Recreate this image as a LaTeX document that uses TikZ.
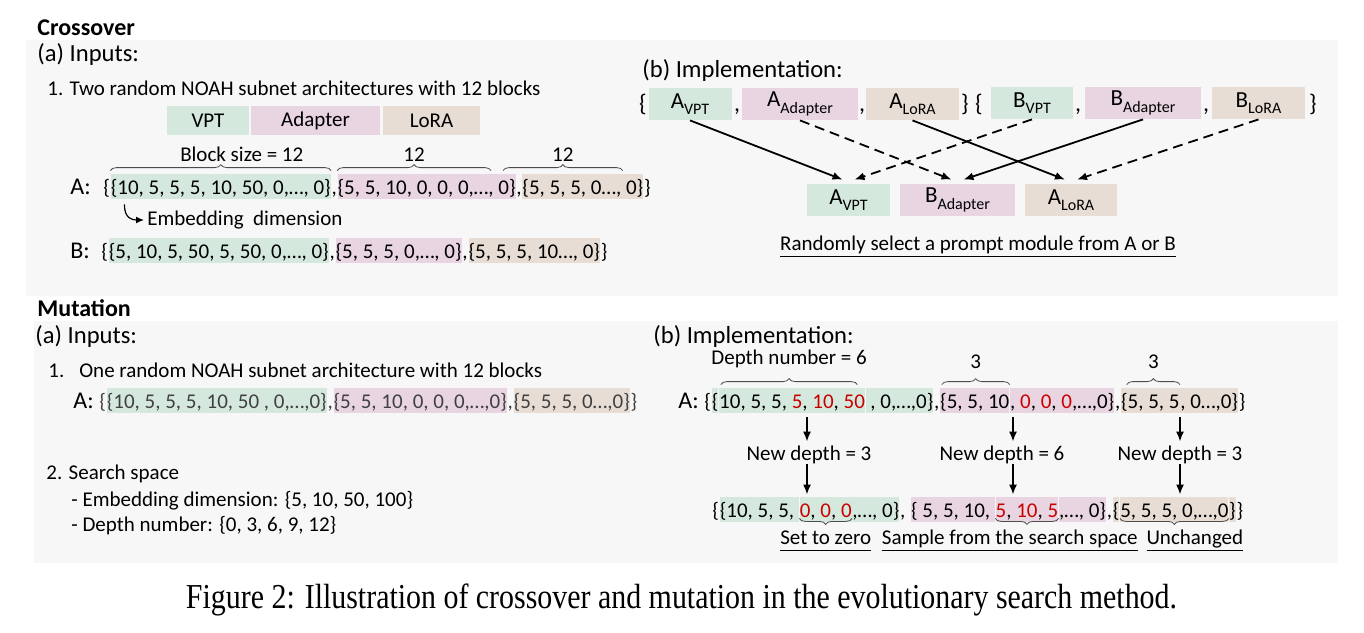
\documentclass[tikz,border=0pt]{standalone}
\usepackage{fontspec}
\setmainfont{Carlito}
\newfontfamily\capfont{Liberation Serif}
\usetikzlibrary{positioning,arrows.meta,decorations.pathreplacing}

\definecolor{vptclr}{HTML}{D5E8DE}
\definecolor{adpclr}{HTML}{E8D5E1}
\definecolor{loraclr}{HTML}{E7DDD5}
\definecolor{panelclr}{HTML}{F7F7F7}
\definecolor{hotclr}{HTML}{C80000}

\newcommand\rd[1]{\textcolor{hotclr}{#1}}
\newcommand\modsub[1]{\raisebox{-0.6ex}{\fontsize{8}{9}\selectfont #1}}
\newcommand\ul[1]{\underline{#1\vphantom{p}}}

\tikzset{
  txt/.style={inner sep=0pt, font=\fontsize{10.5}{12}\selectfont},
  big/.style={inner sep=0pt, font=\fontsize{12}{14}\selectfont},
  subhead/.style={inner sep=0pt, font=\fontsize{12.3}{14}\selectfont},
  head/.style={inner sep=0pt, font=\bfseries\fontsize{12}{14}\selectfont},
  seg/.style={txt, text height=10pt, text depth=2.5pt},
  vseg/.style={seg, fill=vptclr},
  aseg/.style={seg, fill=adpclr},
  lseg/.style={seg, fill=loraclr},
  dim/.style={text=black!75},
  modbox/.style={inner sep=0pt, minimum height=16pt, font=\fontsize{11.5}{14}\selectfont},
  legbox/.style={txt, minimum height=14.5pt},
  arr/.style={-{Latex[length=5pt,width=4pt]}, line width=0.9pt},
  dsharr/.style={arr, dash pattern=on 5pt off 3pt},
  brc/.style={decorate, decoration={brace, amplitude=3pt}, line width=0.4pt, draw=black!70},
  mbrc/.style={decorate, decoration={brace, mirror, amplitude=3pt}, line width=0.4pt, draw=black!70},
}

\begin{document}
\begin{tikzpicture}[x=0.5pt, y=-0.5pt]
\useasboundingbox (0,0) rectangle (1364,632);

% grey panels
\fill[panelclr] (26,40) rectangle (1338,296);
\fill[panelclr] (34,321) rectangle (1338,563);

%%%%% Crossover
\node[head, anchor=west] (xTitle) at (37,28) {Crossover};
\node[subhead, anchor=west] (xIn) at (37,54) {(a) Inputs:};
\node[txt, anchor=west] (xL1) at (47,88) {1. Two random NOAH subnet architectures with 12 blocks};

% legend
\node[legbox, fill=vptclr, minimum width=41pt] (lgV) at (208,120.5) {VPT};
\node[legbox, fill=adpclr, minimum width=64.5pt] (lgA) at (315.5,120.5) {Adapter};
\node[legbox, fill=loraclr, minimum width=48.5pt] (lgL) at (431.5,120.5) {LoRA};

% architecture A
\node[big, anchor=base west] (xA) at (70,194) {A:};
\node[seg, anchor=base west] (xA1) at (103,194) {\{};
\node[vseg, base right=0pt of xA1] (xA2) {\{10, 5, 5, 5, 10, 50, 0,…, 0\}};
\node[seg, base right=0pt of xA2] (xA3) {,};
\node[aseg, base right=0pt of xA3] (xA4) {\{5, 5, 10, 0, 0, 0,…, 0\}};
\node[seg, base right=0pt of xA4] (xA5) {,};
\node[lseg, base right=0pt of xA5] (xA6) {\{5, 5, 5, 0…, 0\}};
\node[seg, base right=0pt of xA6] (xA7) {\}};

% block sizes
\draw[brc] ([yshift=1.5pt]xA2.north west) -- ([yshift=1.5pt]xA2.north east)
  node[txt, midway, above=4.5pt, xshift=10.5pt] (bs1) {Block size = 12};
\draw[brc] ([yshift=1.5pt]xA4.north west) -- ([xshift=-12.5pt,yshift=1.5pt]xA4.north east)
  node[txt, midway, above=4.5pt] (bs2) {12};
\draw[brc] ([xshift=-9.5pt,yshift=1.5pt]xA6.north west) -- ([xshift=-10.5pt,yshift=1.5pt]xA6.north east)
  node[txt, midway, above=4.5pt] (bs3) {12};

% embedding dimension hint
\node[txt, anchor=west] (emb) at (147,220) {Embedding\ \ dimension};
\draw[-{Latex[length=4pt,width=3.5pt]}, line width=0.6pt]
  ([xshift=7pt,yshift=-2.5pt]xA2.south west) .. controls +(0,14) and +(-12,0) .. ([xshift=-1.5pt]emb.west);

% architecture B
\node[big, anchor=base west] (xB) at (70,258) {B:};
\node[seg, anchor=base west] (xB1) at (101,258) {\{};
\node[vseg, base right=0pt of xB1] (xB2) {\{5, 10, 5, 50, 5, 50, 0,…, 0\}};
\node[seg, base right=0pt of xB2] (xB3) {,};
\node[aseg, base right=0pt of xB3] (xB4) {\{5, 5, 5, 0,…, 0\}};
\node[seg, base right=0pt of xB4] (xB5) {,};
\node[lseg, base right=0pt of xB5] (xB6) {\{5, 5, 5, 10…, 0\}};
\node[seg, base right=0pt of xB6] (xB7) {\}};

% implementation
\node[subhead, anchor=west] (xImpl) at (642,70) {(b) Implementation:};

\node[big, anchor=base] (ob1) at (643,111) {\{};
\node[big, anchor=base] (cm1) at (737,111) {,};
\node[big, anchor=base] (cm2) at (862,111) {,};
\node[big, anchor=base] (cb1) at (965,111) {\}};
\node[big, anchor=base] (ob2) at (979,111) {\{};
\node[big, anchor=base] (cm3) at (1078,111) {,};
\node[big, anchor=base] (cm4) at (1206,111) {,};
\node[big, anchor=base] (cb2) at (1313,111) {\}};

\node[modbox, fill=vptclr, minimum width=41.5pt] (tAv) at (690,104) {A\modsub{VPT}};
\node[modbox, fill=adpclr, minimum width=58pt] (tAa) at (800,104) {A\modsub{Adapter}};
\node[modbox, fill=loraclr, minimum width=46.5pt] (tAl) at (912.5,104) {A\modsub{LoRA}};
\node[modbox, fill=vptclr, minimum width=41pt] (tBv) at (1032,103) {B\modsub{VPT}};
\node[modbox, fill=adpclr, minimum width=58pt] (tBa) at (1143,103) {B\modsub{Adapter}};
\node[modbox, fill=loraclr, minimum width=46.5pt] (tBl) at (1258.5,103) {B\modsub{LoRA}};

\node[modbox, fill=vptclr, minimum width=41.5pt] (cAv) at (848.5,200) {A\modsub{VPT}};
\node[modbox, fill=adpclr, minimum width=57.5pt] (cBa) at (957.5,200) {B\modsub{Adapter}};
\node[modbox, fill=loraclr, minimum width=46pt] (cAl) at (1071,200) {A\modsub{LoRA}};

\draw[arr] (tAv.south) -- ([xshift=-3pt,yshift=2pt]cAv.north);
\draw[dsharr] (tAa.south) -- ([xshift=-3pt,yshift=2pt]cBa.north);
\draw[arr] (tAl.south) -- ([xshift=-3pt,yshift=2pt]cAl.north);
\draw[dsharr] (tBv.south) -- ([xshift=3pt,yshift=2pt]cAv.north);
\draw[arr] (tBa.south) -- ([xshift=3pt,yshift=2pt]cBa.north);
\draw[dsharr] (tBl.south) -- ([xshift=3pt,yshift=2pt]cAl.north);

\node[txt] (xRand) at (978,247) {\ul{Randomly select a prompt module from A or B}};

%%%%% Mutation
\node[head, anchor=west] (mTitle) at (37,308) {Mutation};
\node[subhead, anchor=west] (mIn) at (35,336) {(a) Inputs:};
\node[txt, anchor=west] (mL1) at (48,370) {1.\hspace{7.5pt}One random NOAH subnet architecture with 12 blocks};

\node[big, anchor=base west] (mS) at (73,408) {A:};
\node[seg, dim, anchor=base west] (mS1) at (99,408) {\{};
\node[vseg, dim, base right=0pt of mS1] (mS2) {\{10, 5, 5, 5, 10, 50 , 0,…,0\}};
\node[seg, dim, base right=0pt of mS2] (mS3) {,};
\node[aseg, dim, base right=0pt of mS3] (mS4) {\{5, 5, 10, 0, 0, 0,…,0\}};
\node[seg, dim, base right=0pt of mS4] (mS5) {,};
\node[lseg, dim, base right=0pt of mS5] (mS6) {\{5, 5, 5, 0…,0\}};
\node[seg, dim, base right=0pt of mS6] (mS7) {\}};

\node[txt, anchor=west] (mL2) at (46,474) {2. Search space};
\node[txt, anchor=west] (mL3) at (71,501) {- Embedding dimension: \{5, 10, 50, 100\}};
\node[txt, anchor=west] (mL4) at (71,526) {- Depth number: \{0, 3, 6, 9, 12\}};

% implementation
\node[subhead, anchor=west] (mImpl) at (653,336) {(b) Implementation:};

\node[big, anchor=base west] (mA) at (678,408) {A:};
\node[seg, anchor=base west] (mA1) at (704,408) {\{};
\node[vseg, base right=0pt of mA1] (mA2) {\{};
\node[vseg, base right=0pt of mA2] (mA3) {10, 5, 5, \rd{5}, \rd{10}, \rd{50}};
\node[vseg, base right=0pt of mA3] (mA4) {\ , 0,…,0\}};
\node[seg, base right=0pt of mA4] (mA5) {,};
\node[aseg, base right=0pt of mA5] (mA6) {\{5, 5, 10};
\node[aseg, base right=0pt of mA6] (mA7) {, \rd{0}, \rd{0}, \rd{0},…,0\}};
\node[seg, base right=0pt of mA7] (mA8) {,};
\node[lseg, base right=0pt of mA8] (mA9) {\{5, 5, 5};
\node[lseg, base right=0pt of mA9] (mA10) {, 0…,0\}};
\node[seg, base right=0pt of mA10] (mA11) {\}};

\draw[brc] ([xshift=1pt,yshift=1.5pt]mA3.north west) -- ([xshift=-4pt,yshift=1.5pt]mA3.north east)
  node[txt, midway, above=8pt] (dn6) {Depth number = 6};
\draw[brc] ([xshift=1pt,yshift=1.5pt]mA6.north west) -- ([yshift=1.5pt]mA6.north east)
  node[txt, midway, above=8pt] (dn3a) {3};
\draw[brc] ([xshift=3pt,yshift=1.5pt]mA9.north west) -- ([yshift=1.5pt]mA9.north east)
  node[txt, midway, above=8pt] (dn3b) {3};

\node[txt] (nd1) at (809,455) {New depth = 3};
\node[txt] (nd2) at (1002,455) {New depth = 6};
\node[txt] (nd3) at (1180,455) {New depth = 3};

\coordinate (c1) at (807,0);
\coordinate (c2) at (1013,0);
\coordinate (c3) at (1180,0);

% mutated architecture
\node[seg, anchor=base west] (mB1) at (712,517) {\{};
\node[vseg, base right=0pt of mB1] (mB2) {\{10, 5, 5,\ \mbox{}};
\node[vseg, base right=0pt of mB2] (mB3) {\rd{0}, \rd{0}, \rd{0}};
\node[vseg, base right=0pt of mB3] (mB4) {,…, 0\}};
\node[seg, base right=0pt of mB4] (mB5) {,\ \mbox{}};
\node[aseg, base right=0pt of mB5] (mB6) {\{ 5, 5, 10,\ \mbox{}};
\node[aseg, base right=0pt of mB6] (mB7) {\rd{5}, \rd{10}, \rd{5}};
\node[aseg, base right=0pt of mB7] (mB8) {,…, 0\}};
\node[seg, base right=0pt of mB8] (mB9) {,};
\node[lseg, base right=0pt of mB9] (mB10) {\{};
\node[lseg, base right=0pt of mB10] (mB11) {5, 5, 5, 0,…,0};
\node[lseg, base right=0pt of mB11] (mB12) {\}};
\node[seg, base right=0pt of mB12] (mB13) {\}};

\draw[arr, shorten <=2pt, shorten >=2pt] (c1 |- mA3.south) -- (c1 |- nd1.north);
\draw[arr, shorten <=2pt, shorten >=2pt] (c2 |- mA7.south) -- (c2 |- nd2.north);
\draw[arr, shorten <=2pt, shorten >=2pt] (c3 |- mA10.south) -- (c3 |- nd3.north);
\draw[arr, shorten >=1pt] (c1 |- nd1.south) -- (c1 |- mB3.north);
\draw[arr, shorten >=1pt] (c2 |- nd2.south) -- (c2 |- mB7.north);
\draw[arr, shorten >=1pt] (c3 |- nd3.south) -- (c3 |- mB11.north);

\draw[mbrc] ([yshift=2pt]mB3.south west) -- ([yshift=2pt]mB3.south east);
\draw[mbrc] ([yshift=2pt]mB7.south west) -- ([yshift=2pt]mB7.south east);
\draw[mbrc] ([yshift=2pt]mB11.south west) -- ([yshift=2pt]mB11.south east);

\node[txt, anchor=base] (lz) at ([yshift=-13.5pt]mB3.base) {\ul{Set to zero}};
\node[txt, base right=5pt of lz] (ls) {\ul{Sample from the search space}};
\node[txt, base right=4pt of ls] (lu) {\ul{Unchanged}};

% caption
\node[inner sep=0pt] (cap) at (681.5,600) {\capfont\fontsize{17.5}{19}\selectfont
  \resizebox{495.5pt}{\height}{Figure 2: Illustration of crossover and mutation in the evolutionary search method.}};
\end{tikzpicture}
\end{document}
